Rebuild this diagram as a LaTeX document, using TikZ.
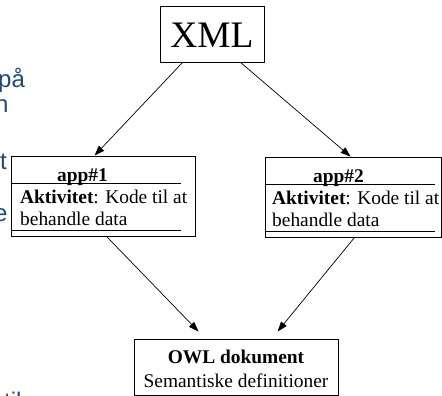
\documentclass[tikz,border=0pt]{standalone}
\usepackage{fontspec}
\setmainfont{Liberation Serif}
\newfontfamily\bluesans{Liberation Sans}
\usetikzlibrary{arrows.meta,calc}
\definecolor{slideblue}{RGB}{31,73,125}
\begin{document}
\begin{tikzpicture}[x=1pt,y=-1pt,
  box/.style={draw=black,line width=0.9pt,rectangle,inner sep=0pt},
  arr/.style={draw=black,line width=0.7pt,-{Triangle[length=10pt,width=7pt]}},
  sepline/.style={draw=black,line width=0.9pt},
  txt/.style={inner sep=0pt,anchor=base west,font=\fontsize{19.4}{21}\selectfont},
  ctxt/.style={inner sep=0pt,anchor=base,font=\fontsize{19.4}{21}\selectfont},
  frag/.style={inner sep=0pt,anchor=base west,text=slideblue,font=\bluesans\fontsize{24}{28}\selectfont}]
\useasboundingbox (0,0) rectangle (442,396);
% background slide fragments
\node[frag] (f1) at (-2,88) {på};
\node[frag] (f2) at (-5,113) {n};
\node[frag] (f3) at (0,169) {t};
\node[frag] (f4) at (-6,221) {e};
\node[frag] (f5) at (4,409) {til};
% boxes
\node[box,minimum width=104pt,minimum height=56pt] (xml) at (212,34) {};
\node[inner sep=0pt,anchor=base,font=\fontsize{37.4}{40}\selectfont] (xmlt) at (212,48) {XML};
\node[box,minimum width=184pt,minimum height=80pt] (app1) at (103,196) {};
\node[box,minimum width=176pt,minimum height=80pt] (app2) at (353,197) {};
\node[box,minimum width=204pt,minimum height=56pt] (owl) at (236,367) {};
% app1 contents
\node[txt] (a1t) at (57,181) {\textbf{app\#1}};
\node[txt] (a1l1) at (20,203) {\textbf{Aktivitet}: Kode til at};
\node[txt] (a1l2) at (20,225) {behandle data};
\draw[sepline] ($(app1.north west)+(0,28)$) -- ($(app1.north west)+(170,28)$);
\draw[sepline] ($(app1.north west)+(0,75)$) -- ($(app1.north west)+(170,75)$);
% app2 contents
\node[txt] (a2t) at (313,182) {\textbf{app\#2}};
\node[txt] (a2l1) at (272,204) {\textbf{Aktivitet}: Kode til at};
\node[txt] (a2l2) at (272,226) {behandle data};
\draw[sepline] ($(app2.north west)+(0,28)$) -- ($(app2.north west)+(170,28)$);
\draw[sepline] ($(app2.north west)+(0,75)$) -- ($(app2.north west)+(170,75)$);
% owl contents
\node[ctxt] (o1) at (236,363) {\textbf{OWL dokument}};
\node[ctxt] (o2) at (236,387) {Semantiske definitioner};
% arrows
\coordinate (e1) at ($(owl.north west)+(65,-7)$);
\coordinate (e2) at ($(owl.north west)+(144,-7)$);
\draw[arr] ($(xml.south west)+(23,0)$) -- ($(app1.north west)+(84,0)$);
\draw[arr] ($(xml.south west)+(81,0)$) -- ($(app2.north west)+(86,0)$);
\draw[arr] ($(app1.south west)+(96,0)$) -- (e1);
\draw[arr] ($(app2.south west)+(90,0)$) -- (e2);
\end{tikzpicture}
\end{document}
